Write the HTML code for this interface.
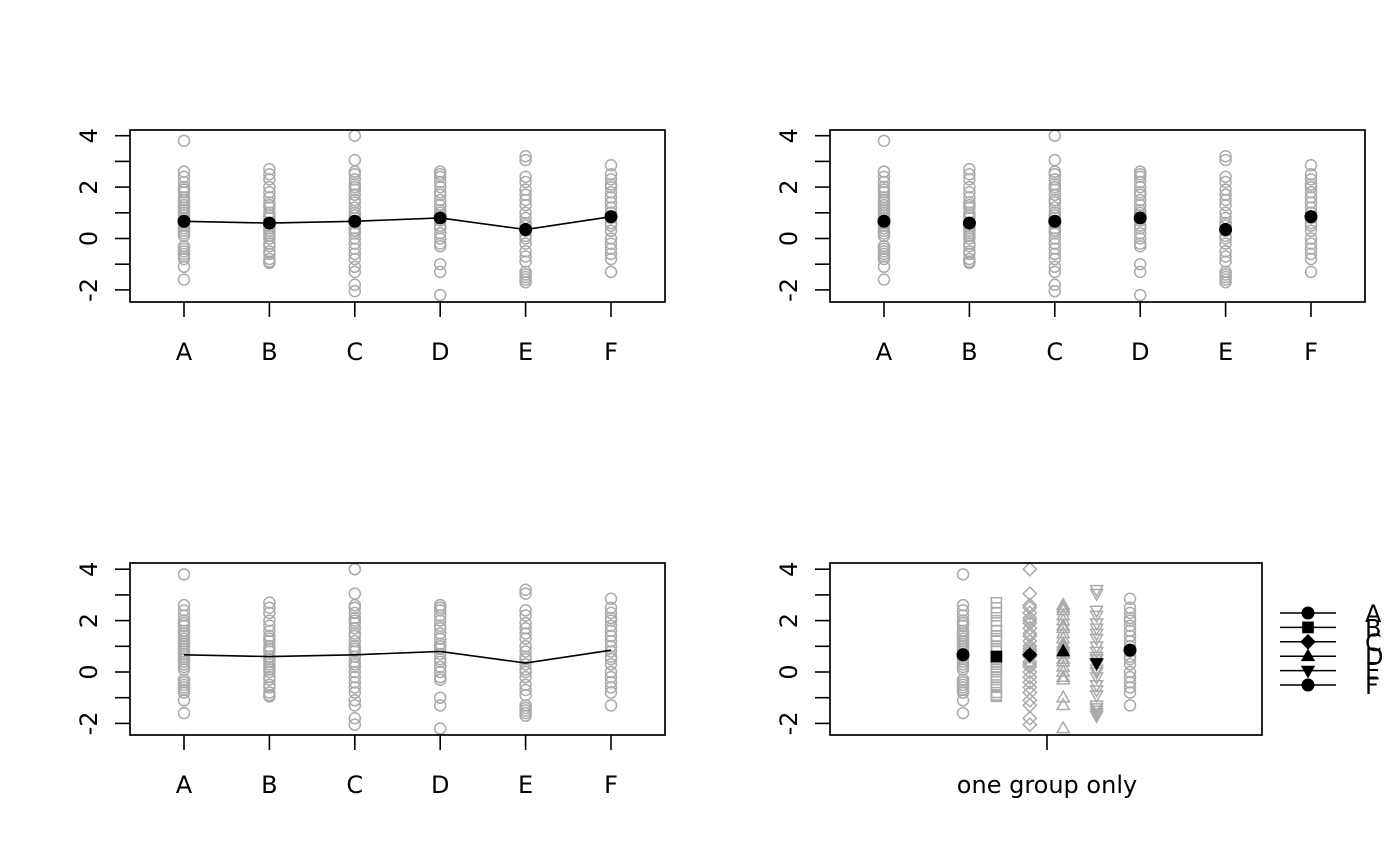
<!DOCTYPE html>
<html><head><meta charset="utf-8"><style>
html,body{margin:0;padding:0;background:#fff;}
svg{display:block;font-family:"DejaVu Sans","Liberation Sans",sans-serif;}
</style></head><body>
<svg id="chart" width="1400" height="866" viewBox="0 0 1400 866" xmlns="http://www.w3.org/2000/svg"></svg>
<script>
const categories = ["A","B","C","D","E","F"];
const groupA = [3.8,2.6,2.4,2.2,2.0,1.9,1.8,1.6,1.5,1.4,1.3,1.2,1.1,1.0,0.9,0.8,0.7,0.6,0.5,0.4,0.3,0.2,0.1,-0.3,-0.4,-0.5,-0.6,-0.7,-0.8,-1.1,-1.6];
const groupB = [2.7,2.5,2.3,2.0,1.8,1.6,1.4,1.3,1.2,1.0,0.9,0.8,0.6,0.5,0.4,0.3,0.2,0.1,0.0,-0.2,-0.3,-0.5,-0.6,-0.8,-0.9,-0.95];
const groupC = [4.0,3.05,2.6,2.5,2.3,2.1,2.0,1.9,1.7,1.5,1.4,1.2,1.0,0.9,0.8,0.6,0.4,0.3,0.2,0.0,-0.2,-0.4,-0.6,-0.8,-1.1,-1.3,-1.8,-2.05];
const groupD = [2.6,2.5,2.4,2.2,2.0,1.8,1.7,1.5,1.3,1.1,1.0,0.9,0.7,0.5,0.4,0.2,0.0,-0.2,-0.3,-1.0,-1.3,-2.2];
const groupE = [3.2,3.05,2.4,2.2,1.9,1.7,1.5,1.3,1.0,0.8,0.6,0.5,0.3,0.1,0.0,-0.2,-0.5,-0.7,-0.9,-1.3,-1.4,-1.5,-1.6,-1.7];
const groupF = [2.85,2.5,2.3,2.1,2.0,1.8,1.6,1.4,1.2,1.0,0.8,0.6,0.5,0.3,0.0,-0.2,-0.4,-0.6,-0.8,-1.3];
const groupMeans = [0.67,0.6,0.67,0.8,0.35,0.85];
const yTicks = [4,3,2,1,0,-1,-2];
const yTickLabels = ["4","","2","","0","","-2"];
const groups = [groupA,groupB,groupC,groupD,groupE,groupF];

const svg = document.getElementById('chart');
const NS = 'http://www.w3.org/2000/svg';
function mk(tag, attrs, parent){
  const e = document.createElementNS(NS, tag);
  for (const k in attrs) e.setAttribute(k, attrs[k]);
  (parent||svg).appendChild(e);
  return e;
}
const GREY = '#aaaaaa';
function marker(shape, cx, cy, filled, parent, color){
  const c = color || (filled ? '#000' : GREY);
  const fill = filled ? c : 'none';
  const sw = filled ? 0 : 1.5;
  const r = filled ? 6.5 : 5.5;
  let e;
  if (shape === 'circle') e = mk('circle', {cx, cy, r, fill, stroke: c, 'stroke-width': sw}, parent);
  else if (shape === 'square') e = mk('rect', {x: cx-r*0.9, y: cy-r*0.9, width: r*1.8, height: r*1.8, fill, stroke: c, 'stroke-width': sw}, parent);
  else if (shape === 'diamond') e = mk('polygon', {points: `${cx},${cy-r*1.2} ${cx+r*1.2},${cy} ${cx},${cy+r*1.2} ${cx-r*1.2},${cy}`, fill, stroke: c, 'stroke-width': sw}, parent);
  else if (shape === 'up') e = mk('polygon', {points: `${cx},${cy-r*1.2} ${cx+r*1.1},${cy+r*0.75} ${cx-r*1.1},${cy+r*0.75}`, fill, stroke: c, 'stroke-width': sw}, parent);
  else e = mk('polygon', {points: `${cx},${cy+r*1.2} ${cx+r*1.1},${cy-r*0.75} ${cx-r*1.1},${cy-r*0.75}`, fill, stroke: c, 'stroke-width': sw}, parent);
  return e;
}
const shapes = ['circle','square','diamond','up','down','circle'];

function panel(opt){
  const g = mk('g', {});
  
  
  const yS = v => opt.zeroY - v * 25.7;
  const xS = opt.xS;
  const ya = mk('g', {}, g);
  
  
  yTicks.forEach((t, i) => {
    mk('line', {x1: opt.left-15, x2: opt.left, y1: yS(t), y2: yS(t), stroke: '#000', 'stroke-width': 1.6}, ya);
    if (yTickLabels[i]) {
      const tx = mk('text', {x: 0, y: 0, 'font-size': 24, 'text-anchor': 'middle', transform: `translate(${opt.left-33},${yS(t)}) rotate(-90)`}, ya);
      tx.textContent = yTickLabels[i];
    }
  });
  const xa = mk('g', {}, g);
  
  
  if (opt.single) {
    mk('line', {x1: opt.singleX, x2: opt.singleX, y1: opt.bottom, y2: opt.bottom+15, stroke: '#000', 'stroke-width': 1.6}, xa);
    const t = mk('text', {x: opt.singleX, y: opt.bottom+58, 'font-size': 24, 'text-anchor': 'middle'}, xa);
    t.textContent = 'one group only';
  } else {
    categories.forEach((c, i) => {
      mk('line', {x1: xS(i), x2: xS(i), y1: opt.bottom+15, y2: opt.bottom, stroke: '#000', 'stroke-width': 1.6}, xa);
      const t = mk('text', {x: xS(i), y: opt.bottom+58, 'font-size': 24, 'text-anchor': 'middle'}, xa);
      t.textContent = c;
    });
  }
  groups.forEach((arr, i) => {
    const pg = mk('g', {}, g);
    
    
    arr.forEach(v => marker(opt.single ? shapes[i] : 'circle', xS(i), yS(v), false, pg));
  });
  if (opt.line) {
    const pl = mk('polyline', {points: groupMeans.map((m, i) => `${xS(i)},${yS(m)}`).join(' '), fill: 'none', stroke: '#000', 'stroke-width': 1.6}, g);
    
    
  }
  if (opt.means) {
    groupMeans.forEach((m, i) => {
      const e = marker(opt.single ? shapes[i] : 'circle', xS(i), yS(m), true, g);
      
      
    });
  }
  const box = mk('rect', {x: opt.left, y: opt.top, width: opt.right-opt.left, height: opt.bottom-opt.top, fill: 'none', stroke: '#000', 'stroke-width': 1.7}, g);
  
  
}
panel({name: 'panel-top-left', left: 130, top: 130, right: 665, bottom: 302, zeroY: 238.5, xS: i => 184 + i*85.4, line: true, means: true});
panel({name: 'panel-top-right', left: 830, top: 130, right: 1365, bottom: 302, zeroY: 238.5, xS: i => 884 + i*85.4, line: false, means: true});
panel({name: 'panel-bottom-left', left: 130, top: 563, right: 665, bottom: 735, zeroY: 672, xS: i => 184 + i*85.4, line: true, means: false});
panel({name: 'panel-bottom-right', left: 830, top: 563, right: 1262, bottom: 735, zeroY: 672, xS: i => 963 + i*33.4, line: false, means: true, single: true, singleX: 1047});

const lg = mk('g', {});


categories.forEach((c, i) => {
  const y = 613 + i*14.4;
  const eg = mk('g', {}, lg);
  
  
  mk('line', {x1: 1280, x2: 1336, y1: y, y2: y, stroke: '#000', 'stroke-width': 1.5}, eg);
  marker(shapes[i], 1308, y, true, eg);
  const t = mk('text', {x: 1365, y: y + 9, 'font-size': 24}, eg);
  t.textContent = c;
});
</script>
</body></html>
